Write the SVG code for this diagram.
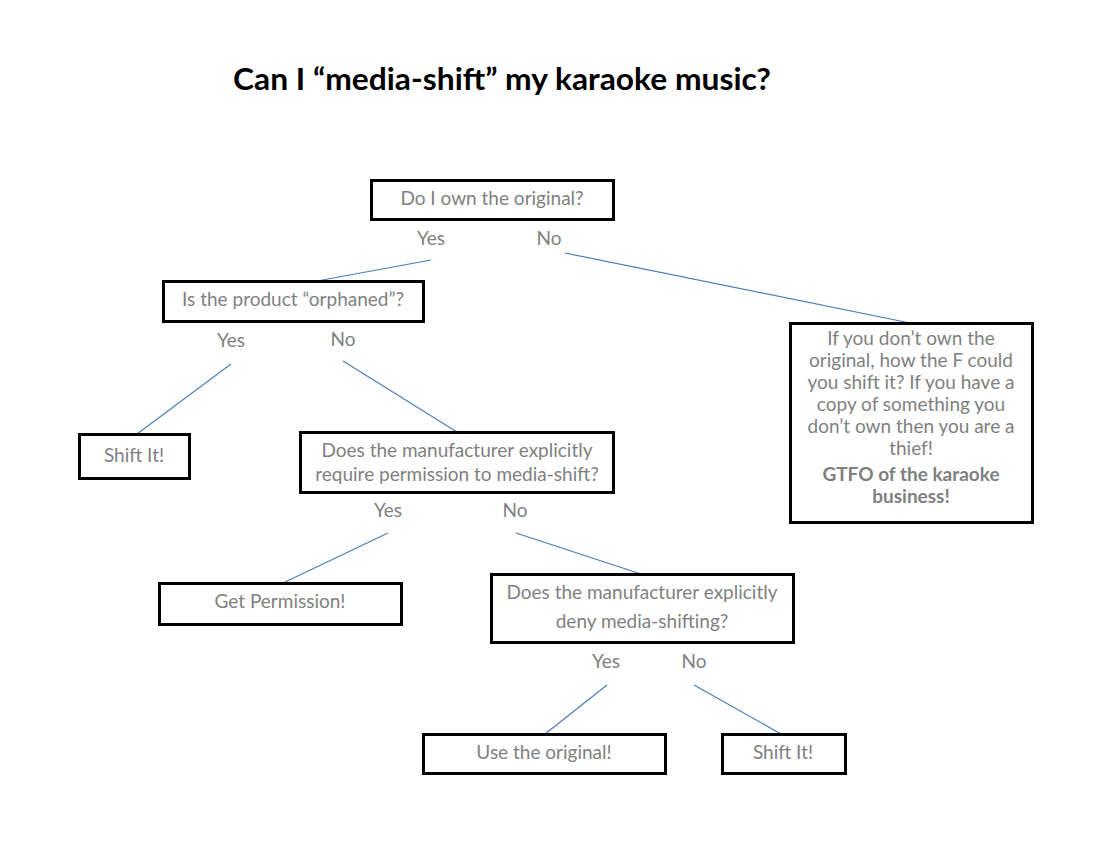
<svg xmlns="http://www.w3.org/2000/svg" width="1106" height="844" viewBox="0 0 1106 844">
<style>
.box{fill:#fff;stroke:#000;stroke-width:3}
.t{font-family:Lato,"Open Sans",sans-serif;font-size:19px;fill:#7f7f7f;text-anchor:middle}
.b{font-weight:bold}
.c line{stroke:#4a7ebb;stroke-width:1.2}
</style>
<rect width="1106" height="844" fill="#fff"/>
<text x="502" y="90" font-family="Lato,'Open Sans',sans-serif" font-size="31" font-weight="bold" fill="#000" text-anchor="middle" textLength="538" lengthAdjust="spacingAndGlyphs">Can I “media-shift” my karaoke music?</text>
<g class="c" id="connectors">
<line x1="431" y1="260" x2="317" y2="281"/>
<line x1="565" y1="253" x2="910" y2="323"/>
<line x1="231" y1="364" x2="137" y2="434"/>
<line x1="343" y1="361" x2="457" y2="432"/>
<line x1="388" y1="533" x2="283" y2="583"/>
<line x1="516" y1="533" x2="641" y2="574"/>
<line x1="607" y1="685" x2="545" y2="734"/>
<line x1="694" y1="685" x2="781" y2="734"/>
</g>
<g id="labels">
<text class="t" x="431" y="245">Yes</text>
<text class="t" x="549" y="245">No</text>
<text class="t" x="231" y="347">Yes</text>
<text class="t" x="343" y="346">No</text>
<text class="t" x="388" y="517">Yes</text>
<text class="t" x="515" y="517">No</text>
<text class="t" x="606" y="668">Yes</text>
<text class="t" x="694" y="668">No</text>
</g>
<g id="q1"><rect class="box" x="371.5" y="180.5" width="242" height="39"/><text class="t" x="492" y="205">Do I own the original?</text></g>
<g id="q2"><rect class="box" x="163.5" y="281.5" width="260" height="40"/><text class="t" x="293" y="306">Is the product “orphaned”?</text></g>
<g id="shift1"><rect class="box" x="79.5" y="434.5" width="110" height="44"/><text class="t" x="134" y="462">Shift It!</text></g>
<g id="q3"><rect class="box" x="300.5" y="432.5" width="313" height="60"/><text class="t" x="457" y="457">Does the manufacturer explicitly</text><text class="t" x="457" y="481">require permission to media-shift?</text></g>
<g id="thief"><rect class="box" x="790.5" y="323.5" width="242" height="199"/>
<text class="t" x="911" y="345">If you don’t own the</text>
<text class="t" x="911" y="367">original, how the F could</text>
<text class="t" x="911" y="389">you shift it? If you have a</text>
<text class="t" x="911" y="411">copy of something you</text>
<text class="t" x="911" y="433">don’t own then you are a</text>
<text class="t" x="911" y="455">thief!</text>
<text class="t b" x="911" y="481">GTFO of the karaoke</text>
<text class="t b" x="911" y="503">business!</text>
</g>
<g id="perm"><rect class="box" x="159.5" y="583.5" width="242" height="41"/><text class="t" x="280" y="608">Get Permission!</text></g>
<g id="q4"><rect class="box" x="491.5" y="574.5" width="302" height="68"/><text class="t" x="642" y="599">Does the manufacturer explicitly</text><text class="t" x="642" y="628">deny media-shifting?</text></g>
<g id="orig"><rect class="box" x="423.5" y="734.5" width="242" height="39"/><text class="t" x="544" y="759">Use the original!</text></g>
<g id="shift2"><rect class="box" x="722.5" y="734.5" width="123" height="39"/><text class="t" x="783" y="759">Shift It!</text></g>
</svg>
